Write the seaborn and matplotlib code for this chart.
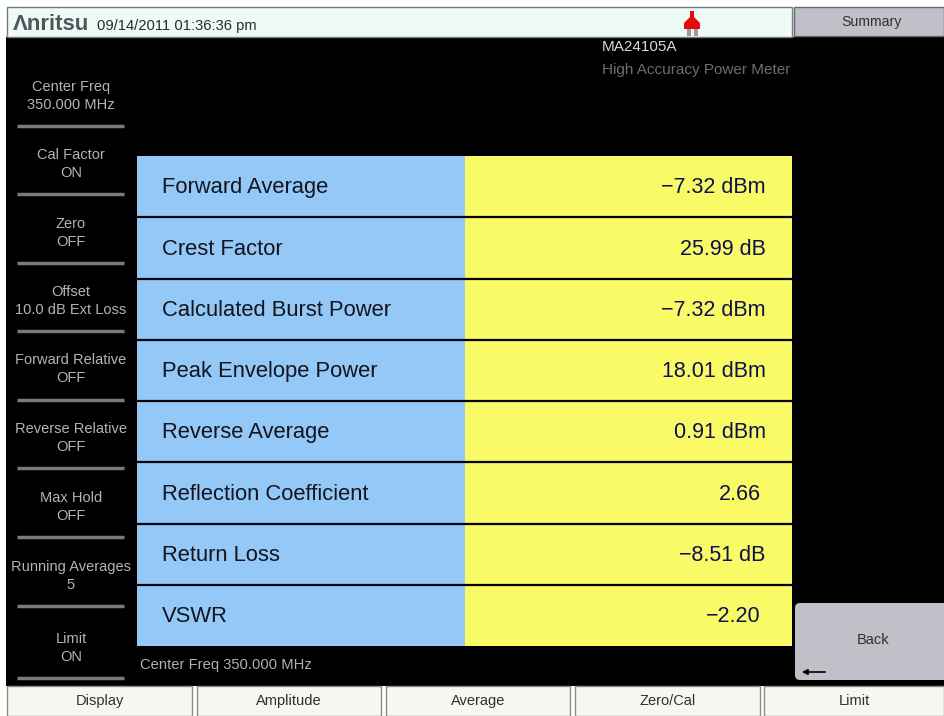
import numpy as np
import matplotlib
matplotlib.use("Agg")
import matplotlib.pyplot as plt
from matplotlib.colors import ListedColormap
from matplotlib.patches import Rectangle, FancyBboxPatch, Polygon
import seaborn as sns

# datos de la tabla
param_names = ["Forward Average", "Crest Factor", "Calculated Burst Power",
               "Peak Envelope Power", "Reverse Average", "Reflection Coefficient",
               "Return Loss", "VSWR"]
param_values = ["−7.32 dBm", "25.99 dB", "−7.32 dBm", "18.01 dBm",
                "0.91 dBm", "2.66", "−8.51 dB", "−2.20"]

# botones y menus
side_labels = ["Center Freq\n350.000 MHz", "Cal Factor\nON", "Zero\nOFF",
               "Offset\n10.0 dB Ext Loss", "Forward Relative\nOFF",
               "Reverse Relative\nOFF", "Max Hold\nOFF", "Running Averages\n5",
               "Limit\nON"]
side_text_y = [96, 164, 233, 301, 369, 438, 507, 576, 648]
side_line_y = [126, 194, 263, 331, 400, 468, 537, 606, 678]
bottom_labels = ["Display", "Amplitude", "Average", "Zero/Cal", "Limit"]
bottom_left = [7, 197, 386, 575, 764]
bottom_right = [192, 381, 570, 760, 944]

BLUE = "#94c8f6"
YELLOW = "#f8fa66"
PANEL = "#eefaf6"
BUTTON = "#f5f8f0"
GREY = "#bfc0c8"
TEXT_INK = "#14141e"
VALUE_INK = "#10104a"

sns.set_theme(style="white")
plt.rcParams["font.family"] = ["Liberation Sans", "DejaVu Sans"]

fig = plt.figure(figsize=(9.44, 7.16), dpi=100, facecolor="white")

# marco de la pantalla en coordenadas de pixel
chrome = fig.add_axes([0, 0, 1, 1])
chrome.set_xlim(0, 944)
chrome.set_ylim(716, 0)
chrome.axis("off")
chrome.add_patch(Rectangle((6, 37), 938, 649, color="black", lw=0))
chrome.add_patch(Rectangle((7, 7), 785, 30, fc=PANEL, ec="#77797a", lw=1))
chrome.add_patch(Rectangle((794, 7), 150, 29, fc=GREY, ec="#66676c", lw=1))
chrome.text(13, 25, "Λnritsu", fontsize=16, fontweight="bold", color="#50555a", va="center")
chrome.text(97, 26, "09/14/2011 01:36:36 pm", fontsize=10.6, color="#2a2a2a", va="center")
chrome.text(872, 22, "Summary", fontsize=10.2, color="#303034", ha="center", va="center")

# icono de enchufe
chrome.add_patch(Polygon([[690, 11], [694, 11], [694, 17], [700, 23], [700, 29],
                          [684, 29], [684, 23], [690, 17]], color="#e60a0a", lw=0))
chrome.add_patch(Rectangle((687, 29), 4, 7, color="#9a9a9a", lw=0))
chrome.add_patch(Rectangle((694, 29), 4, 7, color="#9a9a9a", lw=0))

chrome.text(602, 47, "MA24105A", fontsize=11, color="#d8d8d8", va="center")
chrome.text(602, 70, "High Accuracy Power Meter", fontsize=11, color="#6e6e6e", va="center")
chrome.text(140, 665, "Center Freq 350.000 MHz", fontsize=10.6, color="#b0b0b0", va="center")

for label, y_text, y_line in zip(side_labels, side_text_y, side_line_y):
    chrome.text(71, y_text, label, fontsize=10.5, color="#b4b4b4", ha="center",
                va="center", linespacing=1.4)
    chrome.plot([17, 124], [y_line, y_line], color="#7a7a7a", lw=2.5, solid_capstyle="butt")

for label, x0, x1 in zip(bottom_labels, bottom_left, bottom_right):
    chrome.add_patch(Rectangle((x0, 686), x1 - x0, 30, fc=BUTTON, ec="#8a8c86", lw=1))
    chrome.text((x0 + x1) / 2, 701, label, fontsize=10.5, color="#303030", ha="center", va="center")

# boton Back
chrome.add_patch(FancyBboxPatch((798, 606), 150, 71, boxstyle="round,pad=3,rounding_size=5",
                                fc=GREY, ec="none", clip_on=True))
chrome.text(873, 640, "Back", fontsize=10.5, color="#303034", ha="center", va="center")
chrome.annotate("", xy=(799, 672), xytext=(828, 672),
                arrowprops=dict(arrowstyle="-|>", color="black", lw=1.2, mutation_scale=8))

# tabla como heatmap de dos columnas
cells = np.zeros((len(param_names), 2))
cells[:, 1] = 1
ax = fig.add_axes([137 / 944, 1 - 646 / 716, 655 / 944, 490 / 716])
sns.heatmap(cells, ax=ax, cmap=ListedColormap([BLUE, YELLOW]), cbar=False,
            xticklabels=False, yticklabels=False)
ax.hlines(np.arange(1, len(param_names)), 0, 2, color="#05050a", lw=1.6)

for i, (name, value) in enumerate(zip(param_names, param_values)):
    ax.text(0.076, i + 0.52, name, fontsize=15.8, color=TEXT_INK, va="center", ha="left")
    right = 1.92 if "dB" in value else 1.905
    ax.text(right, i + 0.52, value, fontsize=15.5, color=VALUE_INK, va="center", ha="right")

fig.savefig("out.png", dpi=100, facecolor="white")
